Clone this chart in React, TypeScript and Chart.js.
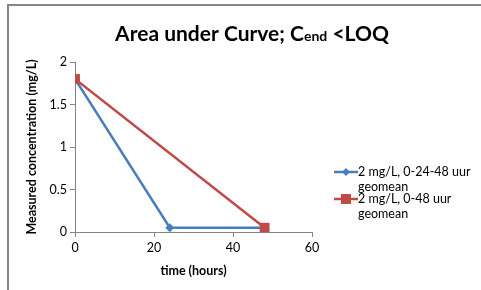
import React, { useEffect, useRef } from "react";
import { Chart, registerables } from "chart.js";

Chart.register(...registerables);

const seriesNames = ["2 mg/L, 0-24-48 uur", "2 mg/L, 0-48 uur"];
const seriesNameLine2 = ["geomean", "geomean"];
const timeA = [0, 24, 48];
const concA = [1.8, 0.05, 0.05];
const timeB = [0, 48];
const concB = [1.8, 0.05];
const colors = ["#4A7EBB", "#BE4B48"];
const titleMain = "Area under Curve; C";
const titleSub = "end";
const titleTail = " <LOQ";
const xTitle = "time (hours)";
const yTitle = "Measured concentration (mg/L)";

const FONT = "Lato, 'Open Sans', sans-serif";

const overlayPlugin = {
  id: "overlay",
  afterDraw(chart: any) {
    const ctx = chart.ctx as CanvasRenderingContext2D;
    ctx.save();
    // title
    ctx.fillStyle = "#000";
    ctx.textBaseline = "alphabetic";
    const big = "bold 21px " + FONT;
    const small = "bold 14px " + FONT;
    ctx.font = big;
    const w1 = ctx.measureText(titleMain).width;
    const w3 = ctx.measureText(titleTail).width;
    ctx.font = small;
    const w2 = ctx.measureText(titleSub).width;
    const total = w1 + w2 + w3;
    let x = 252 - total / 2;
    const by = 41;
    ctx.textAlign = "left";
    ctx.font = big;
    ctx.fillText(titleMain, x, by);
    x += w1;
    ctx.font = small;
    ctx.fillText(titleSub, x, by);
    x += w2;
    ctx.font = big;
    ctx.fillText(titleTail, x, by);

    // legend
    const ly = [172, 199];
    ctx.font = "12.5px " + FONT;
    ctx.textBaseline = "middle";
    for (let i = 0; i < 2; i++) {
      const y = ly[i];
      ctx.strokeStyle = colors[i];
      ctx.lineWidth = 2.5;
      ctx.beginPath();
      ctx.moveTo(334, y);
      ctx.lineTo(358, y);
      ctx.stroke();
      ctx.fillStyle = colors[i];
      if (i === 0) {
        ctx.beginPath();
        ctx.moveTo(346, y - 4);
        ctx.lineTo(350, y);
        ctx.lineTo(346, y + 4);
        ctx.lineTo(342, y);
        ctx.closePath();
        ctx.fill();
      } else {
        ctx.fillRect(341, y - 5, 10, 10);
      }
      ctx.fillStyle = "#000";
      ctx.fillText(seriesNames[i], 358, y);
      ctx.fillText(seriesNameLine2[i], 358, y + 15);
    }
    ctx.restore();
  },
};

export default function App() {
  const ref = useRef<HTMLCanvasElement>(null);
  useEffect(() => {
    const canvas = ref.current!;
    const chart = new Chart(canvas, {
      type: "scatter",
      data: {
        datasets: [
          {
            label: seriesNames[0],
            data: timeA.map((t, i) => ({ x: t, y: concA[i] })),
            showLine: true,
            borderColor: colors[0],
            backgroundColor: colors[0],
            borderWidth: 2.5,
            pointStyle: "rectRot",
            pointRadius: 4.5,
            pointBorderWidth: 0,
            order: 1,
          },
          {
            label: seriesNames[1],
            data: timeB.map((t, i) => ({ x: t, y: concB[i] })),
            showLine: true,
            borderColor: colors[1],
            backgroundColor: colors[1],
            borderWidth: 2.5,
            pointStyle: "rect",
            pointRadius: 7,
            pointBorderWidth: 0,
            order: 0,
          },
        ],
      },
      options: {
        responsive: false,
        animation: false,
        layout: { padding: { left: 20, right: 169, top: 62, bottom: 8 } },
        plugins: { legend: { display: false }, title: { display: false }, tooltip: { enabled: false } },
        scales: {
          x: {
            type: "linear",
            min: 0,
            max: 60,
            ticks: { stepSize: 20, color: "#000", font: { family: FONT, size: 12.5 }, padding: 3, callback: (v: any) => String(v) },
            grid: { drawOnChartArea: false, color: "#868686", tickLength: 5 },
            border: { color: "#868686" },
            title: { display: true, text: xTitle, color: "#000", font: { family: FONT, size: 12.5, weight: "bold" }, padding: { top: 4 } },
            afterFit: (s: any) => { s.height = 290 - 232 - 8; },
          },
          y: {
            min: 0,
            max: 2,
            ticks: { stepSize: 0.5, color: "#000", font: { family: FONT, size: 12.5 }, padding: 3, callback: (v: any) => String(v) },
            grid: { drawOnChartArea: false, color: "#868686", tickLength: 5 },
            border: { color: "#868686" },
            title: { display: true, text: yTitle, color: "#000", font: { family: FONT, size: 12.5, weight: "bold" }, padding: { bottom: 2 } },
            afterFit: (s: any) => { s.width = 75 - 20; },
          },
        },
      },
      plugins: [overlayPlugin],
    });
    return () => chart.destroy();
  }, []);
  return (
    <div style={{ position: "fixed", left: 0, top: 0, width: 481, height: 290, background: "#fff" }}>
      <canvas ref={ref} width={481} height={290} style={{ position: "absolute", left: 0, top: 0 }} />
      <div style={{ position: "absolute", left: 7, top: 4, width: 600, height: 400, border: "2px solid #868686", boxSizing: "border-box", pointerEvents: "none" }} />
    </div>
  );
}
